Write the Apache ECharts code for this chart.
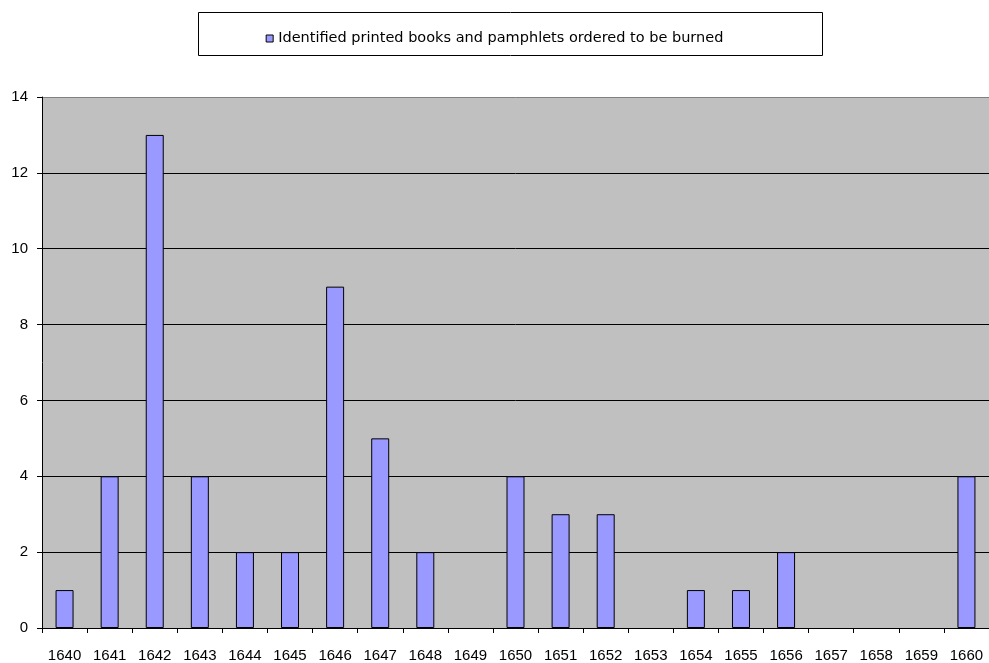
<!DOCTYPE html>
<html><head><meta charset="utf-8">
<script src="https://cdn.jsdelivr.net/npm/echarts@6/dist/echarts.min.js"></script>
<style>html,body{margin:0;padding:0;background:#fff}#c{width:989px;height:663px}</style>
</head><body><div id="c"></div>
<script>
const years = ['1640','1641','1642','1643','1644','1645','1646','1647','1648','1649','1650','1651','1652','1653','1654','1655','1656','1657','1658','1659','1660'];
const burned = [1,4,13,4,2,2,9,5,2,0,4,3,3,0,1,1,2,0,0,0,4];
const yTicks = [0,2,4,6,8,10,12,14];
const seriesName = 'Identified printed books and pamphlets ordered to be burned';
const font = 'Liberation Sans';
const chart = echarts.init(document.getElementById('c'));
chart.setOption({
  animation:false,
  backgroundColor:'#fff',
  textStyle:{fontFamily:font},
  graphic:[{type:'rect',shape:{x:198.5,y:12.5,width:624,height:43},style:{fill:'#fff',stroke:'#000',lineWidth:1},z:0}],
  legend:{top:26,left:'center',itemWidth:7,itemHeight:7,itemGap:4,
    textStyle:{fontFamily:'DejaVu Sans',fontSize:14.5,color:'#000'},
    data:[{name:seriesName,icon:'rect',itemStyle:{color:'#9999FF',borderColor:'#000',borderWidth:1}}]},
  grid:{left:42,top:97,width:952,height:533,show:true,backgroundColor:'#C0C0C0',borderWidth:0},
  xAxis:{type:'category',data:years,
    axisLine:{lineStyle:{color:'#000',width:1}},
    axisTick:{show:true,length:5,lineStyle:{color:'#000'}},
    axisLabel:{color:'#000',fontSize:15,margin:20,fontFamily:font,interval:0}},
  yAxis:{type:'value',min:yTicks[0],max:yTicks[yTicks.length-1],interval:2,
    axisLine:{show:true,lineStyle:{color:'#000',width:1}},
    axisTick:{show:true,length:5,lineStyle:{color:'#000'}},
    axisLabel:{color:'#000',fontSize:15,margin:14,fontFamily:font},
    splitLine:{show:true,lineStyle:{color:['#000','#000','#000','#000','#000','#000','#000','#808080'],width:1}}},
  series:[{name:seriesName,type:'bar',data:burned.map(v => v === 0 ? '-' : v),barWidth:18,
    itemStyle:{color:'#9999FF',borderColor:'#000',borderWidth:1}}]
});
</script></body></html>
